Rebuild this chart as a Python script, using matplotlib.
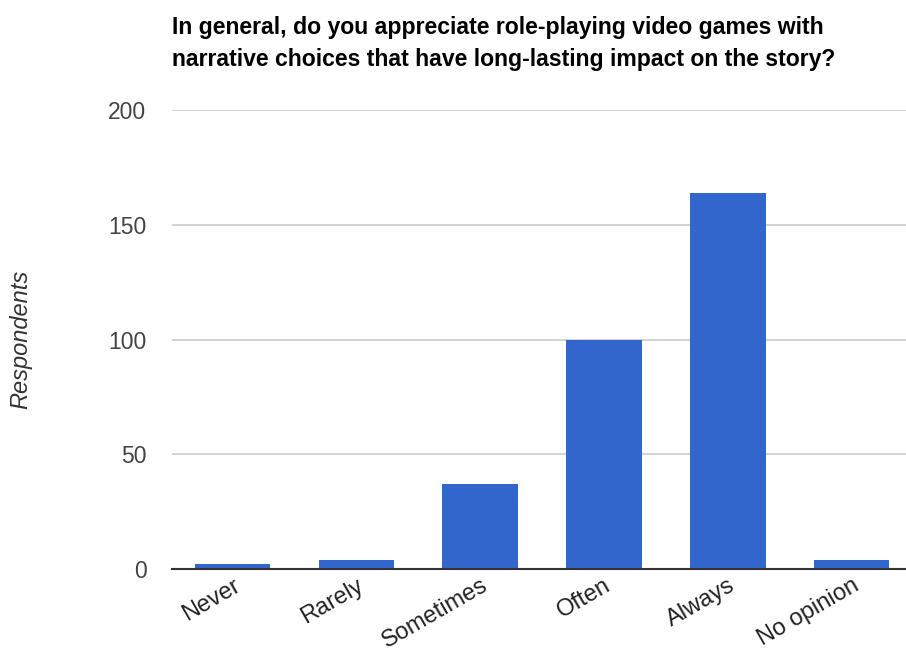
import matplotlib
matplotlib.use('Agg')
import matplotlib.pyplot as plt

plt.rcParams['font.family'] = ['Liberation Sans', 'DejaVu Sans']

answers = ['Never', 'Rarely', 'Sometimes', 'Often', 'Always', 'No opinion']
respondents = [2, 4, 37, 100, 164, 4]
y_ticks = [0, 50, 100, 150, 200]

fig = plt.figure(figsize=(9.06, 6.64), dpi=100)
ax = fig.add_axes([0.19, 0.143, 0.81, 0.691])

x = range(len(answers))
ax.bar(x, respondents, width=0.61, color='#3366cc', zorder=3)

ax.set_xlim(-0.489, 5.44)
ax.set_ylim(0, 200)
ax.set_yticks(y_ticks)
ax.set_yticklabels([str(t) for t in y_ticks], fontsize=16.5, color='#444444')
ax.yaxis.grid(True, color='#cccccc', linewidth=1.2, zorder=0)
ax.tick_params(axis='y', length=0, pad=18.5)
ax.tick_params(axis='x', length=0, pad=4)

ax.set_xticks(list(x))
ax.set_xticklabels(answers, fontsize=17, color='#222222', rotation=30,
                   ha='right', va='top', rotation_mode='anchor')

for side in ['top', 'right', 'left']:
    ax.spines[side].set_visible(False)
ax.spines['bottom'].set_color('#333333')
ax.spines['bottom'].set_linewidth(1.5)
ax.spines['bottom'].set_zorder(4)

ax.set_ylabel('Respondents', fontsize=17, style='italic', color='#333333')
ax.yaxis.set_label_coords(-0.19, 0.5)

fig.text(0.19, 0.934, 'In general, do you appreciate role-playing video games with\n'
         'narrative choices that have long-lasting impact on the story?',
         fontsize=16.6, fontweight='bold', color='black', ha='left', va='center',
         linespacing=1.5)

fig.savefig('out.png', dpi=100)
